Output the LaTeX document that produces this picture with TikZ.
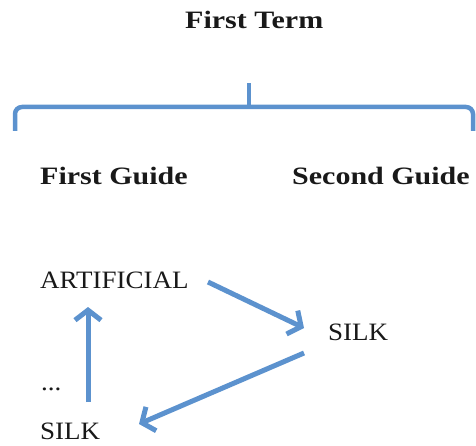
\documentclass[tikz,border=0pt]{standalone}
\usepackage{fontspec}
\setmainfont{Liberation Serif}
\newfontfamily\headfont{Liberation Serif}[FakeStretch=1.2]
\newfontfamily\bodyfont{Liberation Serif}[FakeStretch=1.08]
\usetikzlibrary{arrows.meta,calc}
\definecolor{accent}{RGB}{92,146,206}
\tikzset{
  head/.style={font=\headfont\bfseries\fontsize{25}{29}\selectfont, inner sep=0pt, anchor=base west, text=black!90, text depth=0pt},
  word/.style={font=\bodyfont\fontsize{25}{29}\selectfont, inner sep=0pt, anchor=base west, text=black!90, text depth=0pt},
  bracket/.style={draw=accent, line width=4.5pt, rounded corners=7pt},
  link/.style={draw=accent, line width=5pt, -{Straight Barb[length=10pt,width=26pt,line width=5pt]}}
}
\begin{document}
\begin{tikzpicture}[x=1pt,y=-1pt]
\useasboundingbox (0,0) rectangle (476,446);
% texts
\node[head] (term) at (185,29) {First Term};
\node[head] (g1) at (40,185) {First Guide};
\node[head] (g2) at (292,185) {Second Guide};
\node[word] (art) at (40,288) {ARTIFICIAL};
\node[word] (silkR) at (328,340) {SILK};
\node[word] (dots) at (41,390) {...};
\node[word] (silkL) at (40,439) {SILK};
% bracket
\coordinate (bl) at (15,131);
\coordinate (br) at (473,131);
\coordinate (bm) at (249,107);
\coordinate (bt) at (249,83);
\draw[bracket] (bl) -- (15,107) -- (473,107) -- (br);
\draw[bracket] (bm) -- (bt);
% arrows
\coordinate (a1s) at (208,282);
\coordinate (a1e) at (304,328);
\coordinate (a2s) at (304,353);
\coordinate (a2e) at (139,424);
\coordinate (a3s) at (88,402);
\coordinate (a3e) at (88,307);
\draw[link] (a1s) -- (a1e);
\draw[link] (a2s) -- (a2e);
\draw[link] (a3s) -- (a3e);
\end{tikzpicture}
\end{document}
